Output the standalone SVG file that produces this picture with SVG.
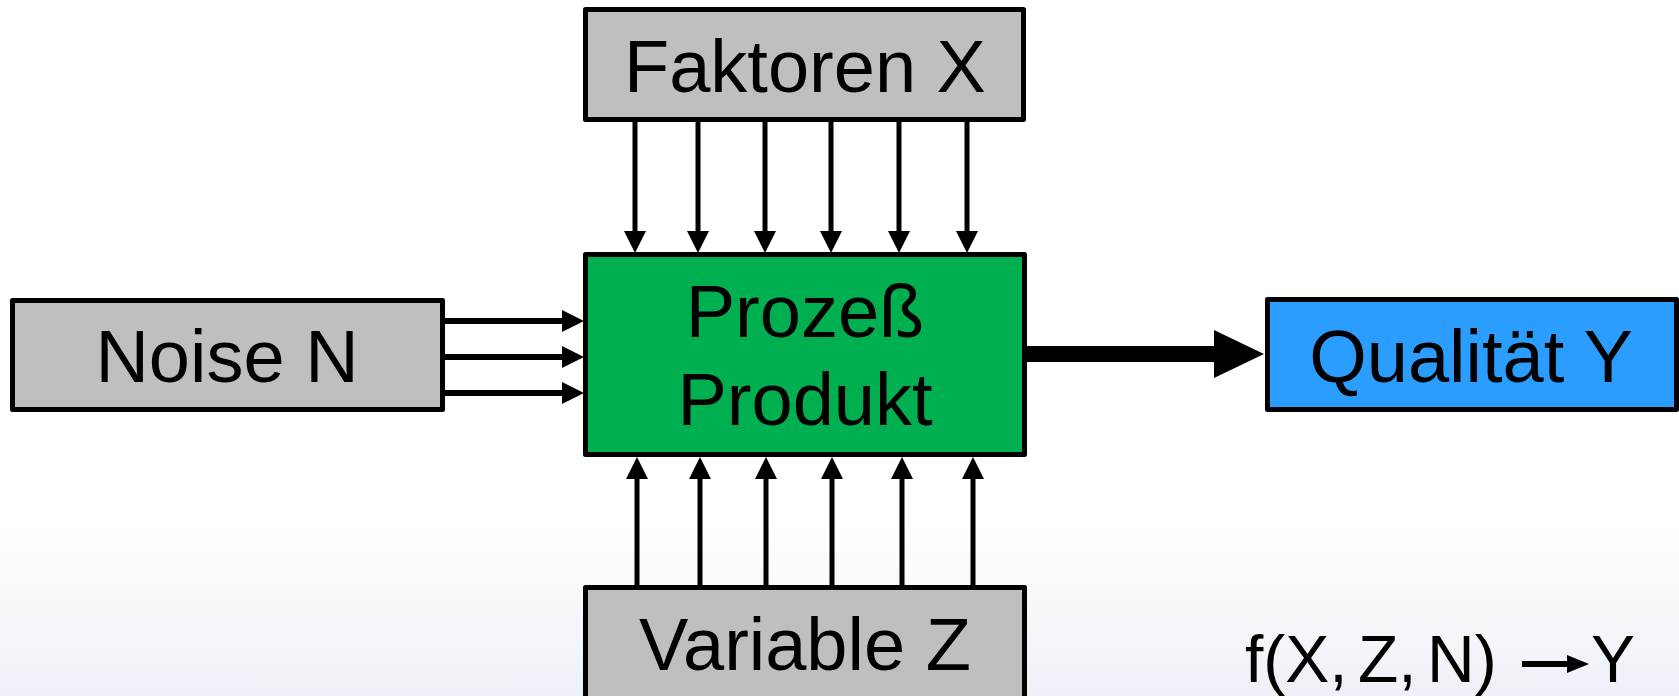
<svg xmlns="http://www.w3.org/2000/svg" width="1679" height="696" viewBox="0 0 1679 696">
  <defs>
    <linearGradient id="bg" x1="0" y1="0" x2="0" y2="1">
      <stop offset="0" stop-color="#FFFFFF"/>
      <stop offset="0.75" stop-color="#FFFFFF"/>
      <stop offset="1" stop-color="#EDF1F7"/>
    </linearGradient>
    <marker id="ah" markerUnits="userSpaceOnUse" markerWidth="22" markerHeight="22" viewBox="0 0 22 22" refX="2" refY="11" orient="auto">
      <path d="M0,0 L22,11 L0,22 z" fill="#000"/>
    </marker>
    <style>
      .box { stroke: #000; stroke-width: 5; stroke-linejoin: round; }
      .gray { fill: #BFBFBF; }
      .green { fill: #00AF50; }
      .blue { fill: #2A9DFF; }
      .lbl { font-family: "Liberation Sans", Arial, sans-serif; font-size: 74px; fill: #000; text-anchor: middle; }
      .fx { font-family: "Liberation Sans", Arial, sans-serif; font-size: 66px; fill: #000; }
      .thin { stroke: #000; stroke-width: 5; fill: none; marker-end: url(#ah); }
      .mid { stroke: #000; stroke-width: 6; fill: none; marker-end: url(#ah); }
    </style>
  </defs>
  <rect width="1679" height="696" fill="url(#bg)"/>

  <g id="connectors">
    <!-- Faktoren X -> Prozess -->
    <line class="thin" x1="635" y1="122" x2="635" y2="233"/>
    <line class="thin" x1="698" y1="122" x2="698" y2="233"/>
    <line class="thin" x1="765" y1="122" x2="765" y2="233"/>
    <line class="thin" x1="831" y1="122" x2="831" y2="233"/>
    <line class="thin" x1="899" y1="122" x2="899" y2="233"/>
    <line class="thin" x1="967" y1="122" x2="967" y2="233"/>
    <!-- Variable Z -> Prozess -->
    <line class="thin" x1="637" y1="586" x2="637" y2="477"/>
    <line class="thin" x1="700" y1="586" x2="700" y2="477"/>
    <line class="thin" x1="766" y1="586" x2="766" y2="477"/>
    <line class="thin" x1="832" y1="586" x2="832" y2="477"/>
    <line class="thin" x1="902" y1="586" x2="902" y2="477"/>
    <line class="thin" x1="973" y1="586" x2="973" y2="477"/>
    <!-- Noise N -> Prozess -->
    <line class="mid" x1="444" y1="321" x2="564" y2="321"/>
    <line class="mid" x1="444" y1="357" x2="564" y2="357"/>
    <line class="mid" x1="444" y1="393" x2="564" y2="393"/>
    <!-- Prozess -> Qualitaet Y -->
    <line x1="1026" y1="354" x2="1216" y2="354" stroke="#000" stroke-width="16"/>
    <polygon points="1214,330 1264,354 1214,378" fill="#000"/>
  </g>

  <g id="node-faktoren">
    <rect class="box gray" x="585.5" y="9.5" width="438" height="110"/>
    <text class="lbl" x="805" y="92">Faktoren X</text>
  </g>

  <g id="node-noise">
    <rect class="box gray" x="12.5" y="300.5" width="430" height="109"/>
    <text class="lbl" x="227" y="382">Noise N</text>
  </g>

  <g id="node-prozess">
    <rect class="box green" x="585.5" y="254.5" width="439" height="200"/>
    <text class="lbl" x="805" y="337">Prozeß</text>
    <text class="lbl" x="805" y="425">Produkt</text>
  </g>

  <g id="node-qualitaet">
    <rect class="box blue" x="1267.5" y="299.5" width="409" height="110"/>
    <text class="lbl" x="1471" y="382">Qualität Y</text>
  </g>

  <g id="node-variable">
    <rect class="box gray" x="585.5" y="587.5" width="439" height="130"/>
    <text class="lbl" x="805" y="670">Variable Z</text>
  </g>

  <g id="formula">
    <text class="fx" x="1245" y="682" word-spacing="-8">f(X, Z, N)</text>
    <line x1="1522" y1="664" x2="1569" y2="664" stroke="#000" stroke-width="6"/>
    <polygon points="1567,655 1589,664 1567,673" fill="#000"/>
    <text class="fx" x="1591" y="682">Y</text>
  </g>
</svg>
